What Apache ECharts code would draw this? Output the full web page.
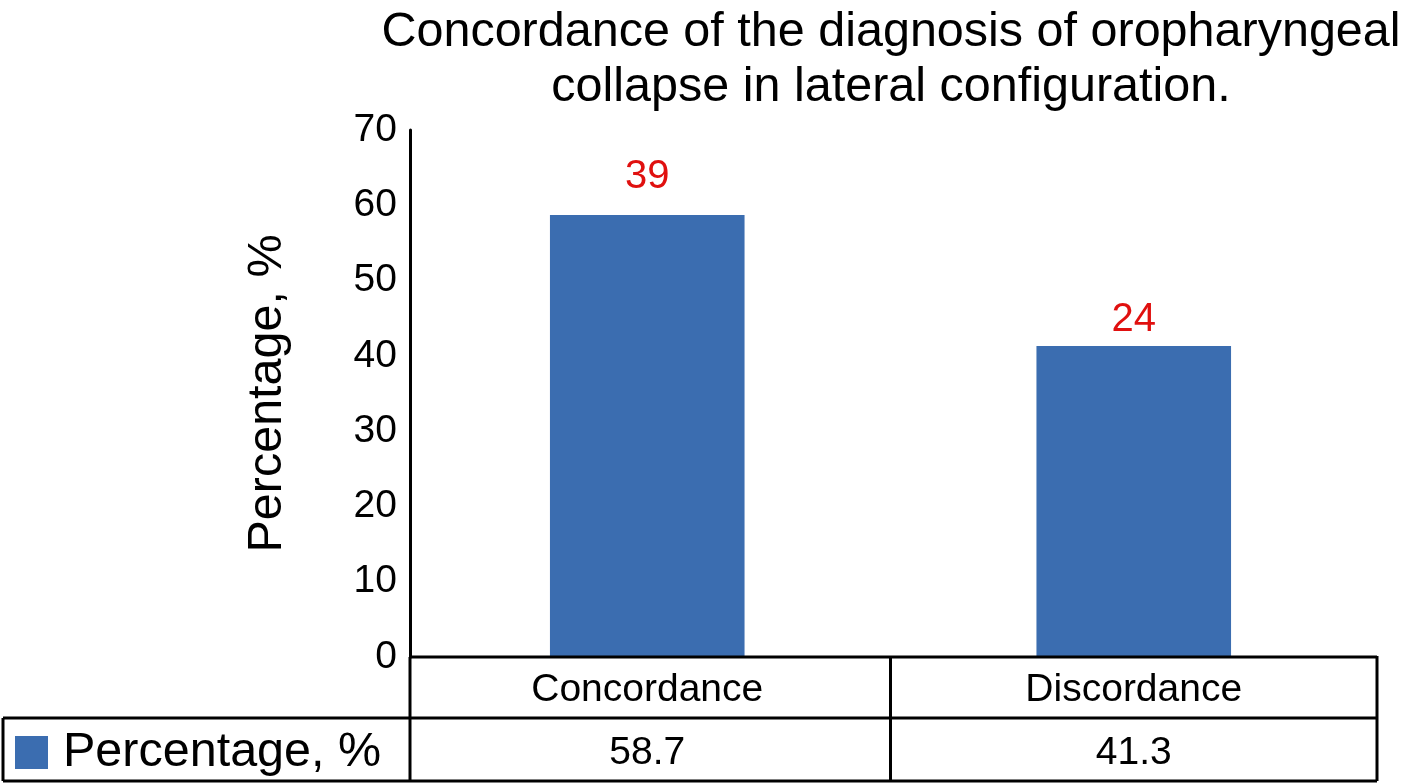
<!DOCTYPE html>
<html><head><meta charset="utf-8">
<script src="https://cdn.jsdelivr.net/npm/echarts@6/dist/echarts.min.js"></script>
<style>html,body{margin:0;padding:0;background:#fff}#c{width:1403px;height:784px}</style>
</head><body><div id="c"></div>
<script>
const categories = ['Concordance', 'Discordance'];
const percentages = [58.7, 41.3];
const counts = [39, 24];
const seriesName = 'Percentage, %';
const titleText = 'Concordance of the diagnosis of oropharyngeal\ncollapse in lateral configuration.';

const FONT = '"Liberation Sans", Arial, Helvetica, sans-serif';
const G = {left: 404, axisX: 410, right: 1377, top: 130, bottom: 657};
const ROW2 = 718, TBOT = 781, TLEFT = 3;
const mid = (G.left + G.right) / 2;
const labelDistances = [18, 6];

const chart = echarts.init(document.getElementById('c'), null, {renderer: 'canvas'});
const lineStyle = {stroke: '#000', lineWidth: 3};
function ln(x1, y1, x2, y2) { return {type: 'line', shape: {x1, y1, x2, y2}, style: lineStyle, z: 10}; }

chart.setOption({
  animation: false,
  backgroundColor: '#fff',
  title: {
    text: titleText, left: 886, top: 0, textAlign: 'center',
    textStyle: {fontFamily: FONT, fontSize: 48.5, fontWeight: 'normal', color: '#000', lineHeight: 55}
  },
  legend: {
    data: [seriesName], left: 15, top: 728, padding: 0, icon: 'rect', itemWidth: 33, itemHeight: 33, itemGap: 10,
    textStyle: {fontFamily: FONT, fontSize: 48.5, color: '#000', padding: [0, 0, 0, 10]}
  },
  grid: {left: G.left, right: 1403 - G.right, top: G.top, bottom: 784 - G.bottom, containLabel: false},
  xAxis: [{
    type: 'category', data: categories, position: 'bottom',
    axisLine: {show: false},
    axisTick: {show: false},
    axisLabel: {fontFamily: FONT, fontSize: 39, color: '#000', margin: 14}
  }, {
    type: 'category', data: categories, position: 'bottom', offset: 63,
    axisLine: {show: false}, axisTick: {show: false},
    axisLabel: {fontFamily: FONT, fontSize: 39, color: '#000', margin: 14,
      formatter: (v, i) => percentages[i].toFixed(1)}
  }],
  yAxis: {
    type: 'value', min: 0, max: 70, interval: 10, offset: G.left - G.axisX,
    name: seriesName, nameLocation: 'middle', nameGap: 118, nameRotate: 90,
    nameTextStyle: {fontFamily: FONT, fontSize: 48.5, color: '#000'},
    axisLine: {show: true, lineStyle: {color: '#000', width: 3}},
    axisTick: {show: false}, splitLine: {show: false},
    axisLabel: {fontFamily: FONT, fontSize: 39, color: '#000', margin: 13}
  },
  series: [{
    name: seriesName, type: 'bar', barWidth: '40%',
    data: percentages.map((v, i) => ({value: v, label: {distance: labelDistances[i]}})),
    itemStyle: {color: '#3b6db0'},
    label: {show: true, position: 'top', fontFamily: FONT, fontSize: 40, color: '#e0100f',
      formatter: p => String(counts[p.dataIndex])}
  }],
  graphic: [
    ln(G.axisX, G.bottom, G.axisX, TBOT),
    ln(mid, G.bottom, mid, TBOT),
    ln(G.right, G.bottom - 1, G.right, TBOT),
    ln(G.axisX, G.bottom, G.right, G.bottom),
    ln(TLEFT, ROW2, G.right, ROW2),
    ln(TLEFT, TBOT, G.right, TBOT),
    ln(TLEFT, ROW2, TLEFT, TBOT)
  ]
});
</script></body></html>
